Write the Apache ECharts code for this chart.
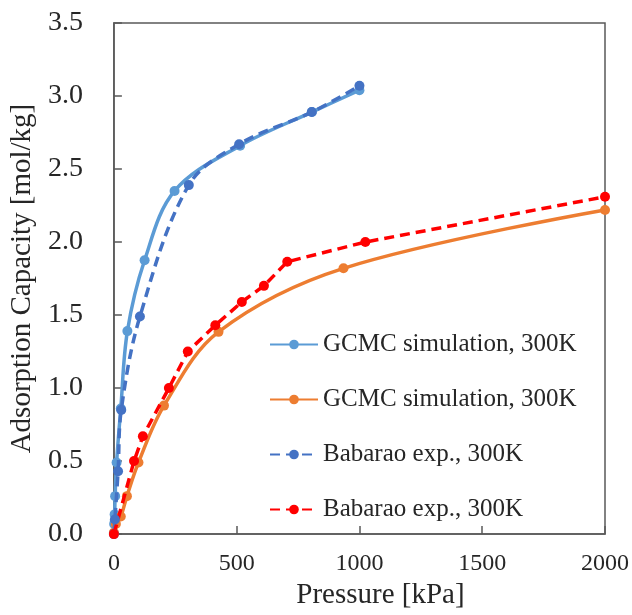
<!DOCTYPE html>
<html>
<head>
<meta charset="utf-8">
<script src="https://cdn.jsdelivr.net/npm/echarts@6/dist/echarts.min.js"></script>
<style>
html,body{margin:0;padding:0;background:#fff;overflow:hidden;}
#chart{width:632px;height:615px;}
</style>
</head>
<body>
<div id="chart"></div>
<script>
// Pressure [kPa] and capacity [mol/kg]
const gcmcBlueX = [1, 3, 5, 11, 28, 55, 125, 247, 514, 806, 1000];
const gcmcBlueY = [0.07, 0.135, 0.26, 0.49, 0.86, 1.39, 1.875, 2.35, 2.66, 2.89, 3.04];

const gcmcOrangeX = [0, 8, 28, 53, 100, 204, 426, 935, 2000];
const gcmcOrangeY = [0.01, 0.07, 0.12, 0.26, 0.49, 0.88, 1.385, 1.82, 2.22];

const expBlueX = [0, 4, 17, 30, 106, 305, 510, 806, 1000];
const expBlueY = [0.0, 0.1, 0.43, 0.85, 1.49, 2.39, 2.67, 2.89, 3.07];

const expRedX = [0, 82, 118, 224, 301, 413, 521, 611, 706, 1024, 2000];
const expRedY = [0.0, 0.50, 0.67, 1.0, 1.25, 1.43, 1.59, 1.70, 1.865, 2.00, 2.31];

const seriesNames = ['GCMC simulation, 300K', 'GCMC simulation, 300K ', 'Babarao exp., 300K', 'Babarao exp., 300K '];
const xTicks = [0, 500, 1000, 1500, 2000];
const yTicks = [0, 0.5, 1.0, 1.5, 2.0, 2.5, 3.0, 3.5];

function pairs(xs, ys) { return xs.map((x, i) => [x, ys[i]]); }

const FONT = '"Liberation Serif", "Times New Roman", serif';
const TXT = '#262626';
const AX = '#595959';

const chart = echarts.init(document.getElementById('chart'), null, {renderer: 'canvas'});
chart.setOption({
  animation: false,
  backgroundColor: '#fff',
  grid: {left: 113, right: 25, top: 23, bottom: 68, show: true, borderColor: AX, borderWidth: 1.5, containLabel: false},
  xAxis: {
    type: 'value', min: xTicks[0], max: xTicks[xTicks.length - 1], interval: 500,
    name: 'Pressure [kPa]', nameLocation: 'middle', nameGap: 43,
    nameTextStyle: {fontFamily: FONT, fontSize: 29, color: TXT, padding: [0, 0, 0, 42]},
    axisLine: {show: true, lineStyle: {color: AX, width: 1.5}},
    axisTick: {show: true, inside: true, length: 8, lineStyle: {color: AX, width: 1.5}},
    axisLabel: {fontFamily: FONT, fontSize: 24, color: TXT, margin: 18, formatter: v => String(v)},
    splitLine: {show: false}
  },
  yAxis: {
    type: 'value', min: yTicks[0], max: yTicks[yTicks.length - 1], interval: 0.5,
    name: 'Adsorption Capacity [mol/kg]', nameLocation: 'middle', nameGap: 72,
    nameTextStyle: {fontFamily: FONT, fontSize: 29, color: TXT},
    axisLine: {show: true, lineStyle: {color: AX, width: 1.5}},
    axisTick: {show: true, inside: true, length: 8, lineStyle: {color: AX, width: 1.5}},
    axisLabel: {fontFamily: FONT, fontSize: 28, color: TXT, margin: 31, formatter: v => v.toFixed(1)},
    splitLine: {show: false}
  },
  legend: {
    orient: 'vertical', left: 264, top: 327, itemWidth: 48, itemHeight: 12, itemGap: 30,
    textStyle: {fontFamily: FONT, fontSize: 25, color: TXT},
    data: seriesNames
  },
  series: [
    {name: seriesNames[0], type: 'line', data: pairs(gcmcBlueX, gcmcBlueY), smooth: 0.35,
     symbol: 'circle', symbolSize: 10, color: '#5B9BD5', lineStyle: {width: 3.5, color: '#5B9BD5'}, z: 2},
    {name: seriesNames[1], type: 'line', data: pairs(gcmcOrangeX, gcmcOrangeY), smooth: 0.35,
     symbol: 'circle', symbolSize: 10, color: '#ED7D31', lineStyle: {width: 3.5, color: '#ED7D31'}, z: 2},
    {name: seriesNames[2], type: 'line', data: pairs(expBlueX, expBlueY), smooth: 0.35,
     symbol: 'circle', symbolSize: 10, color: '#4472C4', lineStyle: {width: 3.5, color: '#4472C4', type: [10, 6]}, z: 3},
    {name: seriesNames[3], type: 'line', data: pairs(expRedX, expRedY), smooth: false,
     symbol: 'circle', symbolSize: 10, color: '#FF0000', lineStyle: {width: 3.5, color: '#FF0000', type: [10, 6]}, z: 3}
  ]
});
</script>
</body>
</html>
